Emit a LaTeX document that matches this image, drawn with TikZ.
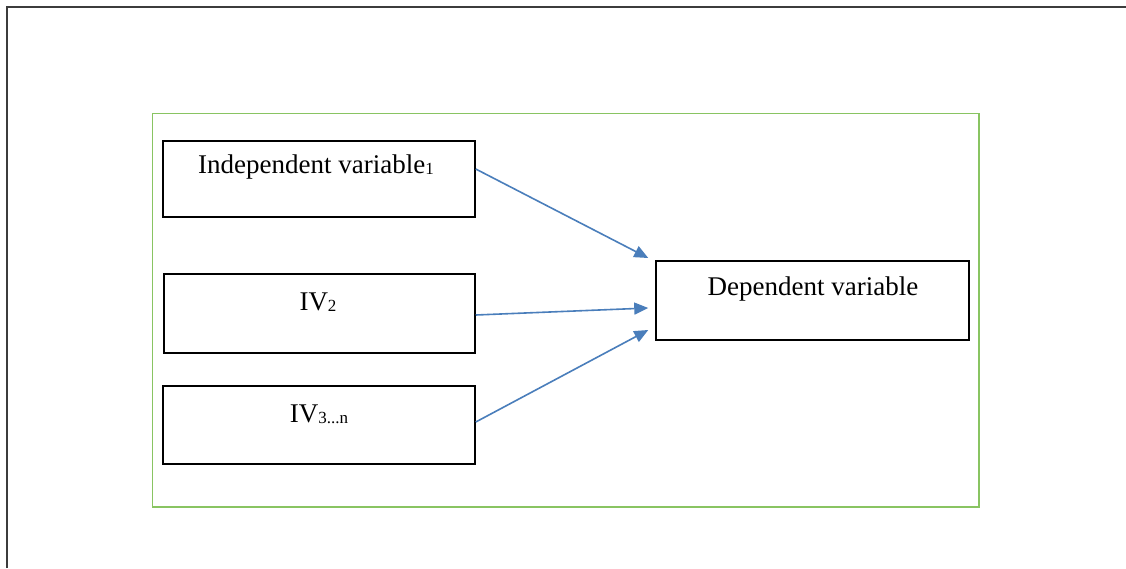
\documentclass[tikz,border=0pt]{standalone}
\usepackage{fontspec}
\setmainfont{Liberation Serif}
\usetikzlibrary{arrows.meta}
\definecolor{framegreen}{RGB}{137,196,98}
\definecolor{arrowblue}{RGB}{74,126,187}
\definecolor{outerframe}{RGB}{60,60,60}
\newcommand{\sbs}[1]{\raisebox{-1.5pt}{\fontsize{17}{17}\selectfont #1}}
\tikzset{
  box/.style={draw=black, line width=1.5pt, rectangle, inner sep=0pt},
  lbl/.style={anchor=base, inner sep=0pt, font=\fontsize{27}{30}\selectfont},
  arr/.style={draw=arrowblue, line width=1.6pt, -{Triangle[length=14pt,width=12pt]}},
  greenframe/.style={draw=framegreen, line width=1.7pt, rectangle, inner sep=0pt}
}
\begin{document}
\begin{tikzpicture}[x=1pt,y=-1pt]
\useasboundingbox[fill=white] (0,0) rectangle (1126,568);
\draw[outerframe, line width=2pt] (7,568) -- (7,6.5) -- (1126,6.5);
\node[greenframe, minimum width=826.5pt, minimum height=393.5pt] (frame) at (565.75,310.25) {};
\node[box, minimum width=312pt, minimum height=76pt] (b1) at (319,179) {};
\node[box, minimum width=311pt, minimum height=79pt] (b2) at (319.5,313.5) {};
\node[box, minimum width=312pt, minimum height=78pt] (b3) at (319,425) {};
\node[box, minimum width=313pt, minimum height=79pt] (dv) at (812.5,300.5) {};
\node[lbl] (t1) at (316,173) {Independent variable\sbs{1}};
\node[lbl] (t2) at (318,310) {IV\sbs{2}};
\node[lbl] (t3) at (319,422) {IV\sbs{3...n}};
\node[lbl] (t4) at (813,295) {Dependent variable};
\draw[arr] ([yshift=10pt]b1.east) -- ([xshift=-7pt,yshift=42.5pt]dv.west);
\draw[arr] ([yshift=-1.5pt]b2.east) -- ([xshift=-7pt,yshift=-7.5pt]dv.west);
\draw[arr] ([yshift=3pt]b3.east) -- ([xshift=-7pt,yshift=-29.5pt]dv.west);
\end{tikzpicture}
\end{document}
